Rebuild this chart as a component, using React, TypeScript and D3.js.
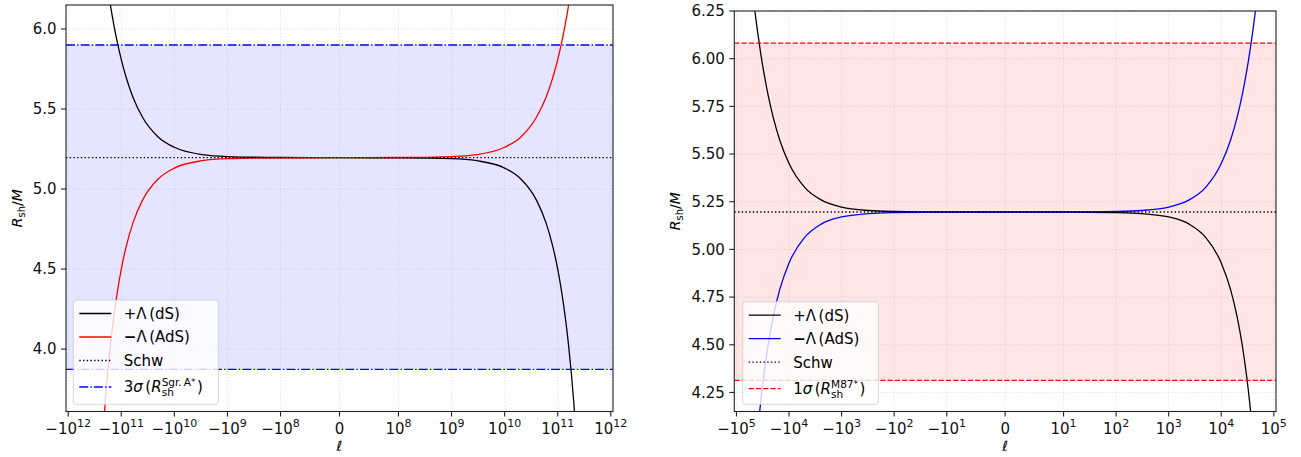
import React from "react";
import * as d3 from "d3";

// sample points
const leftEll = [
  -2.4e11, -2.2e11, -2e11, -1.8e11, -1.6e11, -1.4e11, -1.2e11, -1e11, -8e10, -6e10, -4e10,
  -2e10, -1e10, -3e9, -1e9, -1e8, 0, 1e8, 1e9, 3e9, 1e10, 2e10, 4e10, 6e10, 8e10, 1e11,
  1.2e11, 1.4e11, 1.6e11, 1.8e11, 2e11, 2.2e11, 2.4e11,
];
const leftDS = [
  6.573, 6.469, 6.364, 6.257, 6.148, 6.037, 5.924, 5.809, 5.692, 5.572, 5.45, 5.324, 5.261,
  5.215, 5.203, 5.197, 5.196, 5.195, 5.19, 5.177, 5.131, 5.064, 4.929, 4.79, 4.647, 4.5,
  4.347, 4.189, 4.025, 3.854, 3.674, 3.486, 3.286,
];
const leftAdS = [
  3.286, 3.486, 3.674, 3.854, 4.025, 4.189, 4.347, 4.5, 4.647, 4.79, 4.929, 5.064, 5.131,
  5.177, 5.19, 5.195, 5.196, 5.197, 5.203, 5.215, 5.261, 5.324, 5.45, 5.572, 5.692, 5.809,
  5.924, 6.037, 6.148, 6.257, 6.364, 6.469, 6.573,
];

const rightEll = [
  -5e4, -4.5e4, -4e4, -3.5e4, -3e4, -2.5e4, -2e4, -1.5e4, -1e4, -5e3, -2.5e3, -1e3, -300,
  -100, -10, 0, 10, 100, 300, 1e3, 2.5e3, 5e3, 1e4, 1.5e4, 2e4, 2.5e4, 3e4, 3.5e4, 4e4,
  4.5e4, 5e4,
];
const rightDS = [
  6.364, 6.257, 6.148, 6.037, 5.924, 5.809, 5.692, 5.572, 5.45, 5.324, 5.261, 5.222, 5.204,
  5.199, 5.196, 5.196, 5.196, 5.193, 5.188, 5.17, 5.131, 5.064, 4.929, 4.79, 4.647, 4.5,
  4.347, 4.189, 4.025, 3.854, 3.674,
];
const rightAdS = [
  3.674, 3.854, 4.025, 4.189, 4.347, 4.5, 4.647, 4.79, 4.929, 5.064, 5.131, 5.17, 5.188,
  5.193, 5.196, 5.196, 5.196, 5.199, 5.204, 5.222, 5.261, 5.324, 5.45, 5.572, 5.692, 5.809,
  5.924, 6.037, 6.148, 6.257, 6.364,
];

const schw = 5.196;
const leftBand = [3.873, 5.9];
const rightBand = [4.313, 6.082];

const leftXTicks = [-1e12, -1e11, -1e10, -1e9, -1e8, 0, 1e8, 1e9, 1e10, 1e11, 1e12];
const rightXTicks = [-1e5, -1e4, -1e3, -1e2, -1e1, 0, 1e1, 1e2, 1e3, 1e4, 1e5];
const leftYTicks = [4.0, 4.5, 5.0, 5.5, 6.0];
const rightYTicks = [4.25, 4.5, 4.75, 5.0, 5.25, 5.5, 5.75, 6.0, 6.25];

const FONT = "DejaVu Sans, sans-serif";

// matplotlib style symlog (base 10, linscale 1)
function symlog(v: number, c: number) {
  const ls = 1 / (1 - 1 / 10);
  const a = Math.abs(v);
  if (a <= c) return (v / c) * ls;
  return Math.sign(v) * (ls + Math.log10(a / c));
}

type PanelProps = {
  x0: number;
  x1: number;
  y0: number;
  y1: number;
  linthresh: number;
  xlim: number;
  ylim: number[];
  ell: number[];
  ds: number[];
  ads: number[];
  adsColor: string;
  band: number[];
  bandColor: string;
  bandDash: string;
  xTicks: number[];
  yTicks: number[];
  yDigits: number;
  ylabelX: number;
  legend: { x: number; y: number; w: number; h: number };
  bandLabel: string;
  id: string;
};

const Panel = (p: PanelProps) => {
  const xs = d3
    .scaleLinear()
    .domain([symlog(-p.xlim, p.linthresh), symlog(p.xlim, p.linthresh)])
    .range([p.x0, p.x1]);
  const x = (v: number) => xs(symlog(v, p.linthresh));
  const y = d3.scaleLinear().domain(p.ylim).range([p.y1, p.y0]);

  const line = d3
    .line<number>()
    .x((d, i) => x(p.ell[i]))
    .curve(d3.curveMonotoneX);

  const dsPath = line.y((d) => y(d))(p.ds) || "";
  const adsPath = line.y((d) => y(d))(p.ads) || "";

  const L = p.legend;
  const rows = [L.y + 13.5, L.y + 37, L.y + 60.5, L.y + 87];
  const hx0 = L.x + 6;
  const hx1 = L.x + 38;
  const tx = L.x + 50.5;

  return (
    <g fontFamily={FONT}>
      <defs>
        <clipPath id={p.id}>
          <rect x={p.x0} y={p.y0} width={p.x1 - p.x0} height={p.y1 - p.y0} />
        </clipPath>
      </defs>
      <rect
        x={p.x0}
        y={y(p.band[1])}
        width={p.x1 - p.x0}
        height={y(p.band[0]) - y(p.band[1])}
        fill={p.bandColor}
        fillOpacity={0.1}
      />
      {/* grid */}
      {p.xTicks.map((t) => (
        <line
          key={"gx" + t}
          x1={x(t)}
          x2={x(t)}
          y1={p.y0}
          y2={p.y1}
          stroke="#b0b0b0"
          strokeOpacity={0.5}
          strokeWidth={0.8}
          strokeDasharray="1.1,2"
        />
      ))}
      {p.yTicks.map((t) => (
        <line
          key={"gy" + t}
          x1={p.x0}
          x2={p.x1}
          y1={y(t)}
          y2={y(t)}
          stroke="#b0b0b0"
          strokeOpacity={0.5}
          strokeWidth={0.8}
          strokeDasharray="1.1,2"
        />
      ))}
      <g clipPath={`url(#${p.id})`}>
        <path d={dsPath} fill="none" stroke="black" strokeWidth={1.3} />
        <path d={adsPath} fill="none" stroke={p.adsColor} strokeWidth={1.3} />
        <line x1={p.x0} x2={p.x1} y1={y(schw)} y2={y(schw)} stroke="black" strokeWidth={1.3} strokeDasharray="1.4,2.3" />
        {p.band.map((b) => (
          <line key={"b" + b} x1={p.x0} x2={p.x1} y1={y(b)} y2={y(b)} stroke={p.bandColor} strokeWidth={1.3} strokeDasharray={p.bandDash} />
        ))}
      </g>
      {/* spines */}
      <rect x={p.x0} y={p.y0} width={p.x1 - p.x0} height={p.y1 - p.y0} fill="none" stroke="#222" strokeWidth={1.1} />
      {/* x ticks */}
      {p.xTicks.map((t) => {
        const e = t === 0 ? 0 : Math.round(Math.log10(Math.abs(t)));
        return (
          <g key={"xt" + t}>
            <line x1={x(t)} x2={x(t)} y1={p.y1} y2={p.y1 + 5} stroke="#222" strokeWidth={1.1} />
            <text x={x(t)} y={p.y1 + 22} textAnchor="middle" fontSize={15} fill="#111">
              {t === 0 ? (
                "0"
              ) : (
                <>
                  <tspan>{(t < 0 ? "\u2212" : "") + "10"}</tspan>
                  <tspan dy={-6.5} fontSize={11}>
                    {e}
                  </tspan>
                </>
              )}
            </text>
          </g>
        );
      })}
      {/* y ticks */}
      {p.yTicks.map((t) => (
        <g key={"yt" + t}>
          <line x1={p.x0 - 5} x2={p.x0} y1={y(t)} y2={y(t)} stroke="#222" strokeWidth={1.1} />
          <text x={p.x0 - 9.5} y={y(t) + 5.4} textAnchor="end" fontSize={15} fill="#111">
            {t.toFixed(p.yDigits)}
          </text>
        </g>
      ))}
      {/* axis labels */}
      <text x={(p.x0 + p.x1) / 2} y={451} textAnchor="middle" fontSize={14} fontStyle="italic">
        ℓ
      </text>
      <text transform={`translate(${p.ylabelX},${(p.y0 + p.y1) / 2}) rotate(-90)`} textAnchor="middle" fontSize={14}>
        <tspan fontStyle="italic">R</tspan>
        <tspan dy={3} fontSize={10}>sh</tspan>
        <tspan dy={-3}>/</tspan>
        <tspan fontStyle="italic">M</tspan>
      </text>
      {/* legend */}
      <rect x={L.x} y={L.y} width={L.w} height={L.h} rx={3} fill="white" fillOpacity={0.8} stroke="#cccccc" strokeOpacity={0.8} />
      <line x1={hx0} x2={hx1} y1={rows[0]} y2={rows[0]} stroke="black" strokeWidth={1.3} />
      <line x1={hx0} x2={hx1} y1={rows[1]} y2={rows[1]} stroke={p.adsColor} strokeWidth={1.3} />
      <line x1={hx0} x2={hx1} y1={rows[2]} y2={rows[2]} stroke="black" strokeWidth={1.3} strokeDasharray="1.4,2.3" />
      <line x1={hx0} x2={hx1} y1={rows[3]} y2={rows[3]} stroke={p.bandColor} strokeWidth={1.3} strokeDasharray={p.bandDash} />
      <text x={tx} y={rows[0] + 5.4} fontSize={15}>
        +Λ<tspan dx={2.5}>(dS)</tspan>
      </text>
      <text x={tx} y={rows[1] + 5.4} fontSize={15}>
        <tspan fontWeight="bold">{"\u2212"}</tspan>Λ<tspan dx={2.5}>(AdS)</tspan>
      </text>
      <text x={tx} y={rows[2] + 5.4} fontSize={15}>
        Schw
      </text>
      <text x={tx} y={rows[3] + 5.4} fontSize={15}>
        <tspan>{p.bandLabel}</tspan>
        <tspan fontStyle="italic">σ</tspan>
        <tspan dx={2.5}>(</tspan>
        <tspan fontStyle="italic">R</tspan>
        <tspan dy={4} fontSize={10.5}>sh</tspan>
        <tspan dx={-12.1} dy={-10.5} fontSize={10.5}>{p.id === "clipL" ? "Sgr.\u2009A" : "M87"}</tspan>
        <tspan dy={-1} fontSize={9}>*</tspan>
        <tspan dx={1.5} dy={7.5}>)</tspan>
      </text>
    </g>
  );
};

export default function App() {
  return (
    <svg width={1301} height={457} style={{ position: "absolute", left: 0, top: 0, background: "white" }}>
      <rect width={1301} height={457} fill="white" />
      <Panel
        id="clipL"
        x0={66}
        x1={613}
        y0={5}
        y1={411.5}
        linthresh={1e8}
        xlim={1.1e12}
        ylim={[3.61, 6.15]}
        ell={leftEll}
        ds={leftDS}
        ads={leftAdS}
        adsColor="red"
        band={leftBand}
        bandColor="blue"
        bandDash="8.9,2.2,1.4,2.2"
        xTicks={leftXTicks}
        yTicks={leftYTicks}
        yDigits={1}
        ylabelX={22}
        legend={{ x: 73.3, y: 300, w: 145, h: 104.3 }}
        bandLabel="3"
      />
      <Panel
        id="clipR"
        x0={734.3}
        x1={1276}
        y0={11}
        y1={411.5}
        linthresh={10}
        xlim={1.1e5}
        ylim={[4.15, 6.25]}
        ell={rightEll}
        ds={rightDS}
        ads={rightAdS}
        adsColor="blue"
        band={rightBand}
        bandColor="red"
        bandDash="5.1,2.2"
        xTicks={rightXTicks}
        yTicks={rightYTicks}
        yDigits={2}
        ylabelX={680}
        legend={{ x: 742.7, y: 301.7, w: 135.6, h: 102.6 }}
        bandLabel="1"
      />
    </svg>
  );
}
